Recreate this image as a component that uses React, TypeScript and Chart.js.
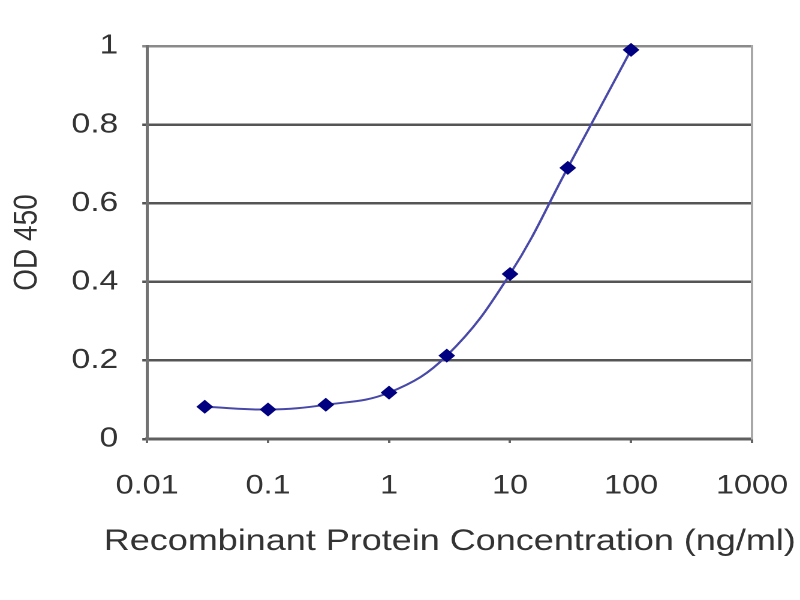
import React, { useEffect, useRef } from 'react';
import { Chart, registerables } from 'chart.js';

Chart.register(...registerables);

// ---- data ----
const concentrations = [0.03, 0.1, 0.3, 1, 3, 10, 30, 100];
const odValues = [0.082, 0.075, 0.087, 0.118, 0.212, 0.42, 0.69, 0.99];
const xTickValues = [0.01, 0.1, 1, 10, 100, 1000];
const xTickLabels = ['0.01', '0.1', '1', '10', '100', '1000'];
const yTickValues = [0, 0.2, 0.4, 0.6, 0.8, 1];
const yTickLabels = ['0', '0.2', '0.4', '0.6', '0.8', '1'];
const xTitle = 'Recombinant Protein Concentration (ng/ml)';
const yTitle = 'OD 450';

// ---- layout (the original picture is slightly stretched horizontally) ----
const CSS_W = 800;
const CSS_H = 600;
const LOGICAL_W = 667;
const FONT = "'Liberation Sans', Arial, sans-serif";
const TEXT = '#333333';
const X_TITLE_CENTER = 375; // logical px
const X_TITLE_BASELINE = 550;

// The x-axis title is wider than the plot area, so Chart.js would squeeze it;
// draw it as plain canvas text instead.
const xTitlePlugin = {
  id: 'wideXTitle',
  afterDraw(chart: any) {
    const ctx = chart.ctx as CanvasRenderingContext2D;
    ctx.save();
    ctx.font = `30px ${FONT}`;
    ctx.fillStyle = TEXT;
    ctx.textAlign = 'center';
    ctx.textBaseline = 'alphabetic';
    ctx.fillText(xTitle, X_TITLE_CENTER, X_TITLE_BASELINE);
    ctx.restore();
  },
};

export default function App() {
  const ref = useRef<HTMLCanvasElement | null>(null);

  useEffect(() => {
    if (!ref.current) return;
    const chart = new Chart(ref.current, {
      type: 'line',
      data: {
        datasets: [
          {
            data: concentrations.map((x, i) => ({ x, y: odValues[i] })),
            borderColor: '#4848a8',
            borderWidth: 2,
            tension: 0.4,
            fill: false,
            pointStyle: 'rectRot',
            pointRadius: 7,
            pointHoverRadius: 7,
            pointBackgroundColor: '#000080',
            pointBorderColor: '#000080',
            pointBorderWidth: 0,
            clip: false as any,
          },
        ],
      },
      plugins: [xTitlePlugin],
      options: {
        animation: false,
        responsive: false,
        devicePixelRatio: 2,
        layout: { padding: { top: 46, right: 40, left: 0, bottom: 0 } },
        plugins: { legend: { display: false }, tooltip: { enabled: false } },
        scales: {
          x: {
            type: 'logarithmic',
            position: 'bottom',
            min: 0.01,
            max: 1000,
            afterBuildTicks: (s: any) => {
              s.ticks = xTickValues.map((v) => ({ value: v }));
            },
            afterFit: (s: any) => {
              s.height = 161;
              s.paddingLeft = 0;
              s.paddingRight = 0;
            },
            ticks: {
              autoSkip: false,
              maxRotation: 0,
              padding: 27,
              color: TEXT,
              font: { family: FONT, size: 27 },
              callback: (v: any, i: number) => xTickLabels[i],
            },
            grid: { drawOnChartArea: false, drawTicks: true, tickLength: 4, color: '#666666', lineWidth: 2 },
            border: { display: true, color: '#5f5f5f', width: 3 },
            title: { display: false },
          },
          y: {
            type: 'linear',
            position: 'left',
            min: 0,
            max: 1,
            afterBuildTicks: (s: any) => {
              s.ticks = yTickValues.map((v) => ({ value: v }));
            },
            afterFit: (s: any) => {
              s.width = 122.6;
            },
            ticks: {
              padding: 20,
              color: TEXT,
              font: { family: FONT, size: 28 },
              callback: (v: any, i: number) => yTickLabels[i],
            },
            grid: {
              color: (c: any) => (c.tick && c.tick.value === 1 ? '#8a8a8a' : '#555555'),
              lineWidth: 2.5,
              drawTicks: true,
              tickLength: 4,
            },
            border: { display: true, color: '#727272', width: 2.5 },
            title: {
              display: true,
              text: yTitle,
              color: TEXT,
              font: { family: FONT, size: 28 },
              padding: { top: 6, bottom: 0 },
            },
          },
          y2: {
            type: 'linear',
            position: 'right',
            min: 0,
            max: 1,
            display: true,
            afterFit: (s: any) => {
              s.width = 0;
            },
            ticks: { display: false },
            grid: { display: false, drawTicks: false },
            border: { display: true, color: '#a8a8a8', width: 2 },
          },
        },
      } as any,
    });
    return () => chart.destroy();
  }, []);

  return (
    <div style={{ position: 'fixed', left: 0, top: 0, width: CSS_W, height: CSS_H, background: '#ffffff' }}>
      <canvas
        ref={ref}
        width={LOGICAL_W}
        height={CSS_H}
        style={{ width: CSS_W + 'px', height: CSS_H + 'px', display: 'block' }}
      />
    </div>
  );
}
